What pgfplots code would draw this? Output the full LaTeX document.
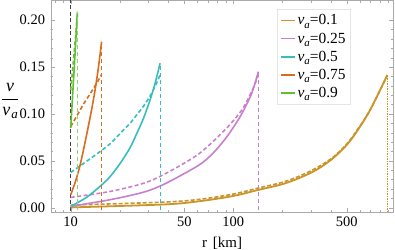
\documentclass[border=0pt]{standalone}
\usepackage{pgfplots}
\pgfplotsset{compat=1.18}
\usepackage{fontspec}
\setmainfont{Liberation Serif}
\definecolor{cgold}{RGB}{201,148,42}
\definecolor{cpurp}{RGB}{200,128,206}
\definecolor{ccyan}{RGB}{56,190,190}
\definecolor{corng}{RGB}{218,108,30}
\definecolor{cgrn}{RGB}{98,190,52}
\definecolor{cframe}{RGB}{170,170,170}
\newcommand{\lf}{\fontsize{15.5}{17}\selectfont}
\newcommand{\va}{\textit{v}\raisebox{-0.45ex}{\fontsize{11}{11}\selectfont\textit{a}}}
\begin{document}
\begin{tikzpicture}
\begin{axis}[
  name=ax,
  scale only axis, width=342.6bp, height=211.8bp,
  xmode=log, xmin=7.534, xmax=966.5, ymin=-0.0049, ymax=0.2209,
  axis line style={color=cframe},
  tick style={color=cframe},
  major tick length=4bp, minor tick length=2.5bp,
  xtick={10,50,100,500}, xticklabels={10,50,100,500},
  minor xtick={8,9,20,30,40,60,70,80,90,200,300,400,600,700,800,900},
  ytick={0,0.05,0.1,0.15,0.2}, yticklabels={0.00,0.05,0.10,0.15,0.20},
  minor ytick={0.01,0.02,0.03,0.04,0.06,0.07,0.08,0.09,0.11,0.12,0.13,0.14,0.16,0.17,0.18,0.19},
  tick label style={font=\fontsize{14.5}{16}\selectfont},
  yticklabel style={inner sep=0pt, xshift=-5.5bp},
  xticklabel style={inner sep=0pt, yshift=-4.4bp},
  xlabel={\fontsize{15}{17}\selectfont r\hspace{0.4em}[km]},
  every axis x label/.style={at={(rel axis cs:0.5,0)}, anchor=center, yshift=-31bp},
  ylabel={\fontsize{18}{20}\selectfont$\displaystyle\frac{\mbox{\textit{v}}}{\mbox{\textit{v}\hspace{1pt}\raisebox{-0.45ex}{\fontsize{13}{13}\selectfont\textit{a}}}}$},
  every axis y label/.style={at={(rel axis cs:0,0.525)}, anchor=center, xshift=-40.5bp},
  legend style={at={(rel axis cs:0.66,0.958)}, anchor=north west, draw=black!10, font=\lf, row sep=2.4bp, inner xsep=3bp, inner ysep=3bp},
  legend cell align=left,
  legend image code/.code={\draw[#1] (0bp,0bp) -- (14bp,0bp);},
]
% reference line
\addplot[forget plot, color=black!75, line width=0.9bp, dash pattern=on 4bp off 2.5bp] coordinates {(10,-0.01) (10,0.25)};
% gold v_a = 0.1
\addplot[forget plot, cgold, line width=1.8bp, smooth] coordinates {(10,0.0003) (38,0.0035) (62.5,0.007) (100,0.0125) (143,0.019) (200,0.025) (258,0.032) (330,0.041) (413,0.053) (500,0.067) (575,0.081) (695,0.104) (888,0.1415)};
\addplot[forget plot, cgold, line width=1.6bp, dash pattern=on 4bp off 2bp, smooth] coordinates {(10,0.0028) (38,0.006) (62.5,0.009) (100,0.0145) (143,0.021) (200,0.027) (258,0.034) (330,0.043) (413,0.054) (500,0.068) (575,0.082) (695,0.104) (888,0.141)};
\addplot[forget plot, cgold, line width=0.8bp, dash pattern=on 1.5bp off 1bp] coordinates {(888,-0.01) (888,0.1415)};
% purple v_a = 0.25
\addplot[forget plot, cpurp, line width=1.6bp, smooth] coordinates {(10,0.0014) (17.45,0.0085) (28,0.0165) (38,0.0255) (61,0.045) (75,0.058) (89,0.073) (100,0.0854) (112.8,0.1) (130,0.122) (142.7,0.145)};
\addplot[forget plot, cpurp, line width=1.6bp, dash pattern=on 4bp off 2.5bp, smooth] coordinates {(10,0.011) (17.45,0.0173) (28,0.026) (38,0.036) (61,0.057) (89,0.083) (112.8,0.104) (130,0.124) (142.7,0.141)};
\addplot[forget plot, cpurp, line width=0.9bp, dash pattern=on 4bp off 3bp] coordinates {(142.7,-0.01) (142.7,0.145)};
% cyan v_a = 0.5
\addplot[forget plot, ccyan, line width=1.6bp, smooth] coordinates {(10,0.0014) (12.5,0.011) (15.15,0.0227) (17.45,0.033) (20.11,0.047) (23.2,0.064) (25.48,0.079) (28,0.095) (30.8,0.115) (33,0.132) (35.5,0.154)};
\addplot[forget plot, ccyan, line width=1.6bp, dash pattern=on 4bp off 2.5bp, smooth] coordinates {(10,0.0376) (13.78,0.0546) (17.45,0.068) (20.1,0.079) (23.2,0.090) (25.5,0.099) (28,0.108) (30.8,0.119) (33,0.129) (35.5,0.1415)};
\addplot[forget plot, ccyan, line width=0.9bp, dash pattern=on 4bp off 3bp] coordinates {(35.5,-0.01) (35.5,0.154)};
% orange v_a = 0.75
\addplot[forget plot, corng, line width=1.6bp, smooth] coordinates {(10,0.0138) (10.7,0.028) (11.41,0.045) (12.1,0.065) (12.83,0.0865) (13.5,0.106) (14.11,0.125) (14.8,0.149) (15.5,0.177)};
\addplot[forget plot, corng, line width=1.6bp, dash pattern=on 4bp off 2.5bp, smooth] coordinates {(10,0.0865) (11,0.099) (11.95,0.110) (12.9,0.119) (13.8,0.127) (14.7,0.135) (15.5,0.142)};
\addplot[forget plot, corng, line width=0.9bp, dash pattern=on 4bp off 3bp] coordinates {(15.5,-0.01) (15.5,0.177)};
% green v_a = 0.9
\addplot[forget plot, cgrn, line width=1.6bp] coordinates {(10,0.085) (10.5,0.147) (11.0,0.209)};
\addplot[forget plot, cgrn, line width=1.6bp, dash pattern=on 4bp off 2.5bp] coordinates {(10,0.125) (10.5,0.165) (11.0,0.205)};
\addplot[forget plot, cgrn!70, line width=0.9bp, dash pattern=on 4bp off 3bp] coordinates {(11.0,-0.01) (11.0,0.209)};
% legend
\addlegendimage{color=cgold, line width=1.5bp}
\addlegendentry{\va=0.1}
\addlegendimage{color=cpurp, line width=1.5bp}
\addlegendentry{\va=0.25}
\addlegendimage{color=ccyan, line width=1.5bp}
\addlegendentry{\va=0.5}
\addlegendimage{color=corng, line width=1.5bp}
\addlegendentry{\va=0.75}
\addlegendimage{color=cgrn, line width=1.5bp}
\addlegendentry{\va=0.9}
\end{axis}
\pgfresetboundingbox
\path ([xshift=-50.7bp,yshift=-37.7bp]ax.south west) rectangle ([xshift=1.7bp,yshift=0.5bp]ax.north east);
\end{tikzpicture}
\end{document}
